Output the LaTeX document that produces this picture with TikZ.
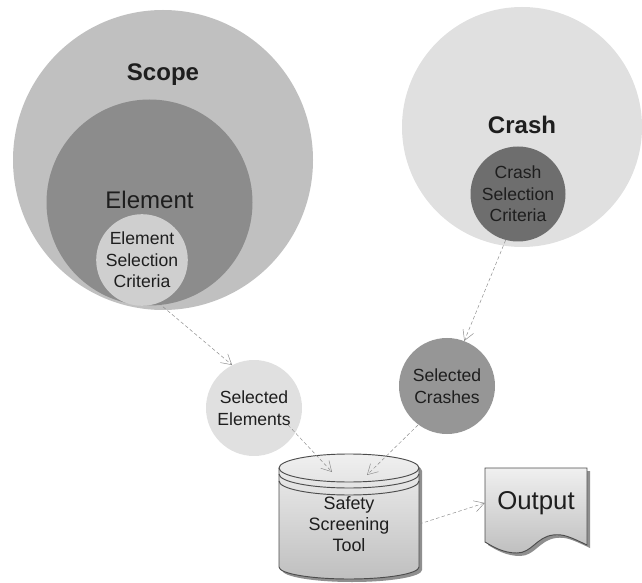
\documentclass[tikz,border=0pt]{standalone}
\usepackage{fontspec}
\setmainfont{Liberation Sans}
\usetikzlibrary{arrows.meta,positioning,shadows}

\definecolor{scopegray}{HTML}{C0C0C0}
\definecolor{elementgray}{HTML}{8C8C8C}
\definecolor{palegray}{HTML}{CFCFCF}
\definecolor{crashgray}{HTML}{E0E0E0}
\definecolor{criteriagray}{HTML}{6E6E6E}
\definecolor{selectedgray}{HTML}{969696}
\definecolor{inkgray}{HTML}{1E1E1E}
\definecolor{linegray}{HTML}{8A8A8A}
\definecolor{shadowgray}{HTML}{8F8F8F}

\begin{document}
\begin{tikzpicture}[
    blob/.style={circle, inner sep=0pt, align=center, text=inkgray, font=\fontsize{15}{18.5}\selectfont},
    bigtext/.style={inner sep=0pt, text=inkgray, font=\fontsize{20.5}{24}\selectfont},
    boldtext/.style={bigtext, font=\fontsize{20.5}{24}\selectfont\bfseries},
    arrow/.style={-{Straight Barb[length=0.3cm,width=0.34cm]}, densely dashed, thin, draw=linegray},
    solidshape/.style={draw=black!70, line width=0.8pt, top color=black!6, bottom color=black!25,
        drop shadow={shadow xshift=0.09cm, shadow yshift=-0.09cm, fill=shadowgray, opacity=1}},
    toolline/.style={draw=black!70, line width=0.8pt}
]
\useasboundingbox (0,0) rectangle (19.26,17.46);

% Scope side
\node[blob, fill=scopegray, minimum size=9cm] (scope) at (4.89,12.66) {};
\node[blob, fill=elementgray, minimum size=6.18cm] (element) at (4.485,11.385) {};
\node[blob, fill=palegray, minimum size=2.67cm] (elemcrit) at (4.26,9.66) {Element\\Selection\\Criteria};
\node[boldtext, below=1.95cm of scope.north, anchor=center] (scopetext) {Scope};
\node[bigtext, below=3.03cm of element.north, anchor=center] (elementtext) {Element};

% Crash side
\node[blob, fill=crashgray, minimum size=7.2cm] (crash) at (15.66,13.65) {};
\node[blob, fill=criteriagray, minimum size=2.85cm] (crashcrit) at (15.54,11.64) {Crash\\Selection\\Criteria};
\node[boldtext, above=0.63cm of crashcrit.north, anchor=center, xshift=0.12cm] (crashtext) {Crash};

% Selected sets
\node[blob, fill=crashgray, minimum size=2.88cm] (selelem) at (7.62,5.22) {Selected\\Elements};
\node[blob, fill=selectedgray, minimum size=2.88cm] (selcrash) at (13.41,5.88) {Selected\\Crashes};

% Tool
\path[solidshape] (8.37,3.42) arc[start angle=180, end angle=0, x radius=2.1cm, y radius=0.42cm]
    -- (12.57,0.45) arc[start angle=0, end angle=-180, x radius=2.1cm, y radius=0.36cm] -- cycle;
\draw[toolline] (8.37,3.42) arc[start angle=180, end angle=360, x radius=2.1cm, y radius=0.42cm];
\draw[toolline] (8.37,3.24) arc[start angle=180, end angle=360, x radius=2.1cm, y radius=0.42cm];
\draw[toolline] (8.37,3.03) arc[start angle=180, end angle=360, x radius=2.1cm, y radius=0.42cm];
\node[inner sep=0pt, minimum width=4.2cm, minimum height=3cm, align=center, text=inkgray, font=\fontsize{15.3}{17.6}\selectfont] (tool) at (10.47,1.74) {Safety\\Screening\\Tool};

% Output
\path[solidshape] (14.55,3.42) -- (17.61,3.42) -- (17.61,1.11)
    .. controls (17.1,1.35) and (16.9,1.45) .. (16.59,1.41)
    .. controls (16.1,1.35) and (15.95,0.87) .. (15.51,0.87)
    .. controls (15.1,0.87) and (14.8,1.05) .. (14.55,1.2) -- cycle;
\node[inner sep=0pt, minimum width=3.06cm, minimum height=2cm, text=inkgray, font=\fontsize{22}{26}\selectfont] (output) at (16.08,2.37) {Output};

% Arrow ends
\coordinate (selelemout) at (8.64,4.71);
\coordinate (toolinleft) at (9.96,3.3);
\coordinate (selcrashout) at (12.54,4.71);
\coordinate (toolinright) at (11.01,3.21);

% Arrows
\draw[arrow] (elemcrit.-69) -- (selelem.117);
\draw[arrow] (crashcrit.-105) -- (selcrash.69);
\draw[arrow] (selelemout) -- (toolinleft);
\draw[arrow] (selcrashout) -- (toolinright);
\draw[arrow] (tool.east) -- (output.west);

\end{tikzpicture}
\end{document}
